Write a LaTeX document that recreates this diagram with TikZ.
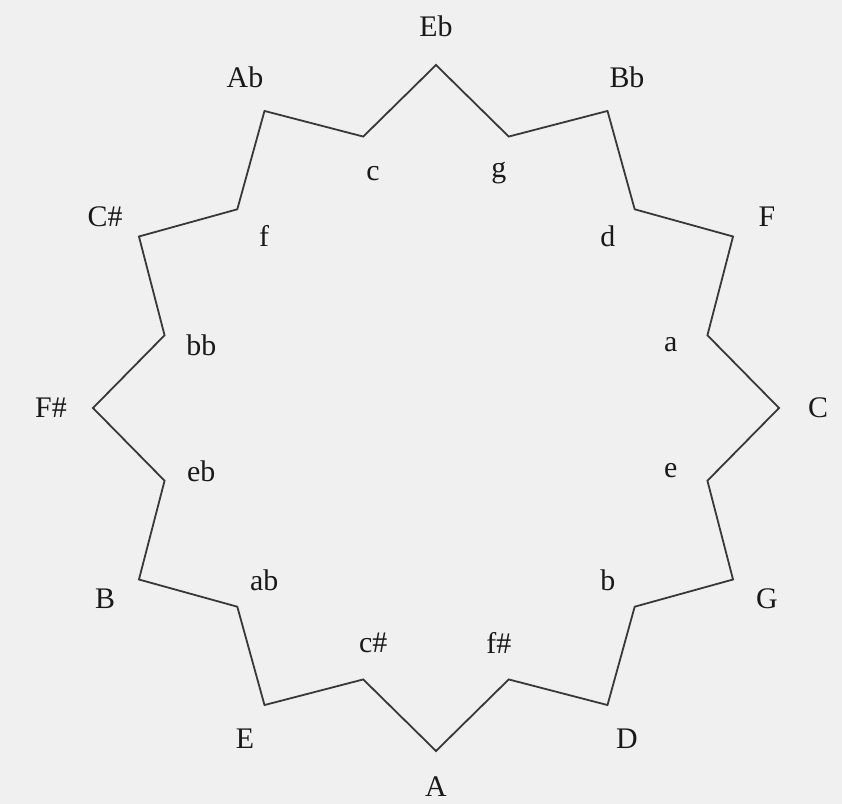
\documentclass[tikz,border=0pt]{standalone}
\usepackage{fontspec}
\setmainfont{Liberation Serif}
\usepackage{xcolor}
\usepackage{tikz}
\definecolor{paper}{RGB}{240,240,240}

\begin{document}
\begin{tikzpicture}[
  x=1bp, y=1bp,
  keylabel/.style={font=\fontsize{30}{36}\selectfont, inner sep=0pt, text=black!90},
  major/.style={keylabel},
  minor/.style={keylabel},
  star/.style={line width=1.8bp, draw=black!78, line join=miter}
]
  % Background and frame
  \fill[paper] (-436,-396) rectangle (406,408);
  \useasboundingbox (-436,-396) rectangle (406,408);

  % Outer corners (major keys)
  \coordinate (vEb) at (90:343);
  \coordinate (vBb) at (60:343);
  \coordinate (vF)  at (30:343);
  \coordinate (vC)  at (0:343);
  \coordinate (vG)  at (-30:343);
  \coordinate (vD)  at (-60:343);
  \coordinate (vA)  at (-90:343);
  \coordinate (vE)  at (-120:343);
  \coordinate (vB)  at (-150:343);
  \coordinate (vFs) at (180:343);
  \coordinate (vCs) at (150:343);
  \coordinate (vAb) at (120:343);

  % Inner corners (minor keys)
  \coordinate (wg)  at (75:281);
  \coordinate (wd)  at (45:281);
  \coordinate (wa)  at (15:281);
  \coordinate (we)  at (-15:281);
  \coordinate (wb)  at (-45:281);
  \coordinate (wfs) at (-75:281);
  \coordinate (wcs) at (-105:281);
  \coordinate (wab) at (-135:281);
  \coordinate (web) at (-165:281);
  \coordinate (wbb) at (165:281);
  \coordinate (wf)  at (135:281);
  \coordinate (wc)  at (105:281);

  % Star outline
  \draw[star] (vEb) -- (wg) -- (vBb) -- (wd) -- (vF) -- (wa) -- (vC)
    -- (we) -- (vG) -- (wb) -- (vD) -- (wfs) -- (vA) -- (wcs) -- (vE)
    -- (wab) -- (vB) -- (web) -- (vFs) -- (wbb) -- (vCs) -- (wf)
    -- (vAb) -- (wc) -- cycle;

  % Major key labels
  \node[major] (Eb) at (90:382)   {Eb};
  \node[major] (Bb) at (60:382)   {Bb};
  \node[major] (F)  at (30:382)   {F};
  \node[major] (C)  at (0:382)    {C};
  \node[major] (G)  at (-30:382)  {G};
  \node[major] (D)  at (-60:382)  {D};
  \node[major] (A)  at (-90:379)  {A};
  \node[major] (E)  at (-120:382) {E};
  \node[major] (B)  at (-150:382) {B};
  \node[major] (Fs) at (180:385)  {F\#};
  \node[major] (Cs) at (150:382)  {C\#};
  \node[major] (Ab) at (120:382)  {Ab};

  % Minor key labels
  \node[minor] (g)  at (75:243)   {g};
  \node[minor] (d)  at (45:243)   {d};
  \node[minor] (a)  at (15:243)   {a};
  \node[minor] (e)  at (-15:243)  {e};
  \node[minor] (b)  at (-45:243)  {b};
  \node[minor] (fs) at (-75:243)  {f\#};
  \node[minor] (cs) at (-105:243) {c\#};
  \node[minor] (ab) at (-135:243) {ab};
  \node[minor] (eb) at (-165:243) {eb};
  \node[minor] (bb) at (165:243)  {bb};
  \node[minor] (f)  at (135:243)  {f};
  \node[minor] (c)  at (105:243)  {c};
\end{tikzpicture}
\end{document}
